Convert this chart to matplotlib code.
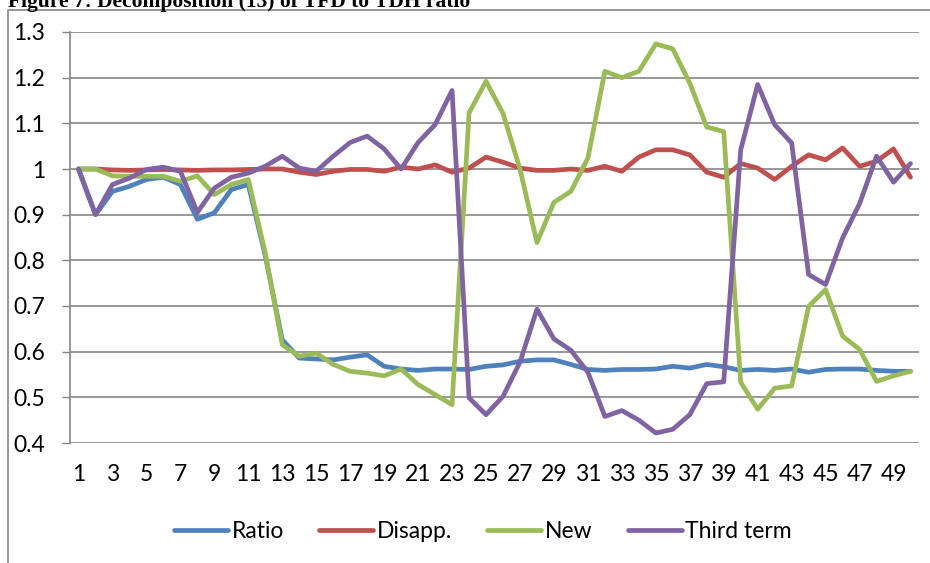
import matplotlib
matplotlib.use("Agg")
import matplotlib.pyplot as plt
from matplotlib.patches import Rectangle
import numpy as np

periods = list(range(1, 51))

ratio = [1.000, 0.900, 0.951, 0.962, 0.977, 0.982, 0.966, 0.890, 0.904, 0.955,
         0.966, 0.810, 0.626, 0.586, 0.584, 0.582, 0.588, 0.593, 0.568, 0.562,
         0.559, 0.562, 0.562, 0.561, 0.568, 0.571, 0.579, 0.582, 0.582, 0.572,
         0.561, 0.559, 0.561, 0.561, 0.562, 0.568, 0.564, 0.572, 0.567, 0.559,
         0.561, 0.559, 0.562, 0.555, 0.561, 0.562, 0.562, 0.559, 0.557, 0.557]

disapp = [1.000, 1.000, 0.998, 0.997, 0.998, 0.999, 0.998, 0.997, 0.998, 0.998,
          0.999, 1.000, 1.000, 0.993, 0.988, 0.995, 0.999, 0.999, 0.995, 1.004,
          1.000, 1.009, 0.993, 1.002, 1.026, 1.015, 1.002, 0.997, 0.997, 1.000,
          0.997, 1.006, 0.995, 1.026, 1.042, 1.042, 1.031, 0.993, 0.982, 1.012,
          1.002, 0.977, 1.006, 1.031, 1.020, 1.046, 1.006, 1.017, 1.044, 0.982]

new = [1.000, 1.000, 0.985, 0.984, 0.984, 0.984, 0.973, 0.985, 0.944, 0.966,
       0.977, 0.816, 0.615, 0.590, 0.597, 0.572, 0.557, 0.553, 0.547, 0.562,
       0.528, 0.506, 0.484, 1.123, 1.192, 1.122, 1.000, 0.839, 0.927, 0.951,
       1.024, 1.214, 1.200, 1.214, 1.274, 1.263, 1.188, 1.092, 1.082, 0.533,
       0.474, 0.520, 0.525, 0.699, 0.736, 0.634, 0.605, 0.535, 0.547, 0.557]

third = [1.000, 0.900, 0.966, 0.980, 0.999, 1.004, 0.995, 0.905, 0.958, 0.982,
         0.991, 1.006, 1.028, 1.002, 0.995, 1.028, 1.058, 1.072, 1.044, 1.000,
         1.058, 1.097, 1.172, 0.499, 0.462, 0.502, 0.577, 0.693, 0.628, 0.603,
         0.555, 0.458, 0.471, 0.450, 0.422, 0.430, 0.462, 0.530, 0.534, 1.042,
         1.185, 1.097, 1.057, 0.769, 0.747, 0.849, 0.924, 1.028, 0.971, 1.012]

series_names = ["Ratio", "Disapp.", "New", "Third term"]
series_values = [ratio, disapp, new, third]
colors = ["#4F81BD", "#C0504D", "#9BBB59", "#8064A2"]

y_ticks = [0.4, 0.5, 0.6, 0.7, 0.8, 0.9, 1.0, 1.1, 1.2, 1.3]
y_tick_labels = ["0.4", "0.5", "0.6", "0.7", "0.8", "0.9", "1", "1.1", "1.2", "1.3"]
x_tick_positions = list(range(1, 51, 2))

title = "Figure 7: Decomposition (13) of TFD to TDH ratio"

W, H = 930, 563
fig = plt.figure(figsize=(W / 100, H / 100), dpi=100)
grey = "#868686"
font = "Lato"
fs = 16.5

ax = fig.add_axes([70 / W, 1 - 443 / H, (919 - 70) / W, (443 - 32) / H])
for name, vals, c in zip(series_names, series_values, colors):
    ax.plot(periods, vals, color=c, lw=3.4, label=name,
            solid_joinstyle="round", solid_capstyle="round")

ax.set_xlim(0.5, 50.5)
ax.set_ylim(0.4, 1.3)
ax.set_yticks(y_ticks)
ax.set_yticklabels(y_tick_labels, fontfamily=font, fontsize=fs)
ax.set_xticks(x_tick_positions)
ax.set_xticklabels([str(v) for v in x_tick_positions], fontfamily=font, fontsize=fs)
ax.tick_params(axis="y", length=6, width=1, color=grey, pad=12)
ax.tick_params(axis="x", length=0, pad=15)
ax.grid(axis="y", color=grey, lw=1.2)
ax.set_axisbelow(True)
for s in ["top", "right", "bottom"]:
    ax.spines[s].set_visible(False)
ax.spines["left"].set_color(grey)
ax.spines["left"].set_linewidth(1.2)

fig.legend(loc="center", bbox_to_anchor=(483 / W, 1 - 532 / H), ncol=4,
           frameon=False, prop={"family": font, "size": fs},
           handlelength=2.35, handletextpad=0.15, columnspacing=1.55)

fig.add_artist(Rectangle((7.5 / W, -1), 2, 1 + (1 - 10 / H), transform=fig.transFigure,
                         fill=False, edgecolor=grey, lw=1.2, clip_on=False))

fig.text(8 / W, 1 - 7 / H, title, fontfamily="Liberation Serif", fontweight="bold",
         fontsize=15.5, va="baseline", ha="left")

fig.savefig("out.png", dpi=100)
